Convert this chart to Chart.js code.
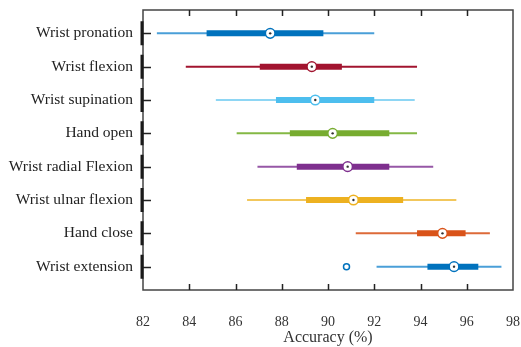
<!DOCTYPE html>
<html>
<head>
<meta charset="utf-8">
<title>Accuracy by gesture</title>
<script src="https://cdn.jsdelivr.net/npm/chart.js@4.4.1/dist/chart.umd.min.js"></script>
<style>
  html, body { margin: 0; padding: 0; background: #fff; }
  #wrap { width: 521px; height: 347px; }
</style>
</head>
<body>
<div id="wrap"><canvas id="chart" width="521" height="347"></canvas></div>
<script>
// gestures, top to bottom
const categories = [
  "Wrist pronation", "Wrist flexion", "Wrist supination", "Hand open",
  "Wrist radial Flexion", "Wrist ulnar flexion", "Hand close", "Wrist extension"
];
const whiskerLow  = [82.6, 83.85, 85.15, 86.05, 86.95, 86.5, 91.2, 92.1];
const boxLow      = [84.75, 87.05, 87.75, 88.35, 88.65, 89.05, 93.85, 94.3];
const medians     = [87.5, 89.3, 89.45, 90.2, 90.85, 91.1, 94.95, 95.45];
const boxHigh     = [89.8, 90.6, 92.0, 92.65, 92.65, 93.25, 95.95, 96.5];
const whiskerHigh = [92.0, 93.85, 93.75, 93.85, 94.55, 95.55, 97.0, 97.5];
const outlierRows   = [7];
const outlierValues = [90.8];
const xTicks = [82, 84, 86, 88, 90, 92, 94, 96, 98];

const boxColors     = ["#0072BD", "#A2142F", "#4DBEEE", "#77AC30", "#7E2F8E", "#EDB120", "#D95319", "#0072BD"];
const whiskerColors = ["#4A9FD8", "#A2142F", "#8ED6F4", "#84B845", "#9657A6", "#F2C75C", "#DD6A39", "#4A9FD8"];

const datasets = [];
categories.forEach((c, i) => {
  const row = i + 1;
  datasets.push({
    type: "line", order: 3,
    data: [{ x: whiskerLow[i], y: row }, { x: whiskerHigh[i], y: row }],
    borderColor: whiskerColors[i], borderWidth: 2, borderCapStyle: "butt",
    pointRadius: 0
  });
  datasets.push({
    type: "line", order: 2,
    data: [{ x: boxLow[i], y: row }, { x: boxHigh[i], y: row }],
    borderColor: boxColors[i], borderWidth: 6, borderCapStyle: "butt",
    pointRadius: 0
  });
});
// median rings
datasets.push({
  type: "scatter", order: 1,
  data: medians.map((m, i) => ({ x: m, y: i + 1 })),
  pointRadius: 4.8, pointBorderWidth: 1.5,
  pointBackgroundColor: "#fff", pointBorderColor: boxColors
});
// median centre dots
datasets.push({
  type: "scatter", order: 0,
  data: medians.map((m, i) => ({ x: m, y: i + 1 })),
  pointRadius: 1.2, pointBorderWidth: 0,
  pointBackgroundColor: "#333"
});
// outliers
datasets.push({
  type: "scatter", order: 1,
  data: outlierValues.map((v, k) => ({ x: v, y: outlierRows[k] + 1 })),
  pointRadius: 3, pointBorderWidth: 1.5,
  pointBackgroundColor: "#fff", pointBorderColor: outlierRows.map(r => boxColors[r])
});

// box frame with inward ticks
const frame = {
  id: "frame",
  afterDatasetsDraw(chart) {
    const { ctx, chartArea: a, scales: { x, y } } = chart;
    ctx.save();
    ctx.strokeStyle = "#444";
    ctx.lineWidth = 1.5;
    ctx.strokeRect(a.left, a.top, a.right - a.left, a.bottom - a.top);
    ctx.strokeStyle = "#222";
    ctx.beginPath();
    xTicks.slice(1, -1).forEach(v => {
      const px = Math.round(x.getPixelForValue(v)) + 0.5;
      ctx.moveTo(px, a.bottom); ctx.lineTo(px, a.bottom - 6);
      ctx.moveTo(px, a.top); ctx.lineTo(px, a.top + 6);
    });
    categories.forEach((c, i) => {
      const py = Math.round(y.getPixelForValue(i + 1)) + 0.5;
      ctx.moveTo(a.left, py); ctx.lineTo(a.left + 8, py);
    });
    ctx.stroke();
    // heavier bars on the category axis
    ctx.lineWidth = 3;
    ctx.strokeStyle = "#1a1a1a";
    ctx.beginPath();
    categories.forEach((c, i) => {
      ctx.moveTo(a.left - 1, y.getPixelForValue(i + 1 - 0.36));
      ctx.lineTo(a.left - 1, y.getPixelForValue(i + 1 + 0.36));
    });
    ctx.stroke();
    ctx.restore();
  }
};

const serif = "'Liberation Serif', 'DejaVu Serif', serif";

new Chart(document.getElementById("chart"), {
  type: "line",
  data: { datasets },
  options: {
    responsive: false,
    animation: false,
    layout: { padding: { top: 10, right: 8, left: 0, bottom: 0 } },
    plugins: { legend: { display: false }, tooltip: { enabled: false } },
    scales: {
      x: {
        type: "linear", min: 82, max: 98,
        afterBuildTicks: s => { s.ticks = xTicks.map(v => ({ value: v })); },
        afterFit: s => { s.height = 57; s.paddingLeft = 0; s.paddingRight = 0; },
        grid: { display: false, drawTicks: false },
        border: { display: false },
        ticks: { color: "#333", padding: 24, font: { family: serif, size: 14 } },
        title: {
          display: true, text: "Accuracy (%)", color: "#333",
          padding: { top: 0, bottom: 0 }, font: { family: serif, size: 16 }
        }
      },
      y: {
        type: "linear", min: 0.3, max: 8.7, reverse: true,
        afterBuildTicks: s => { s.ticks = categories.map((c, i) => ({ value: i + 1 })); },
        afterFit: s => { s.width = 143; s.paddingTop = 0; s.paddingBottom = 0; },
        grid: { display: false, drawTicks: false },
        border: { display: false },
        ticks: {
          color: "#222", padding: 10, font: { family: serif, size: 15.5 },
          callback: v => categories[v - 1]
        }
      }
    }
  },
  plugins: [frame]
});
</script>
</body>
</html>
